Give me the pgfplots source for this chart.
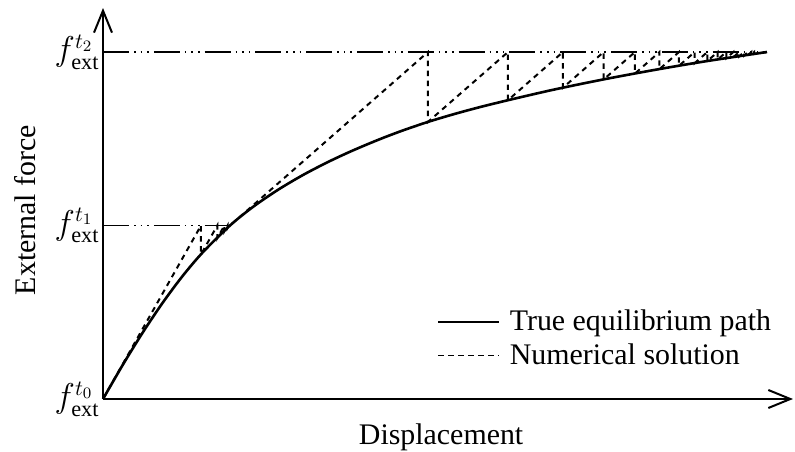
\documentclass[border=0pt]{standalone}
\usepackage{fontspec}
\setmainfont{Liberation Serif}
\usepackage{pgfplots}
\usepackage{pgfplotstable}
\pgfplotsset{compat=1.18}
\usetikzlibrary{arrows.meta}

% true equilibrium path: displacement, external force
\pgfplotstableread{
x f
0 0
20 34.5
40 66.9
60 96.7
80 123.5
100 146.9
127 173.5
150 192.1
175 209.2
200 224.0
225 237.0
250 248.6
277 259.9
300 268.6
325 277.1
350 284.6
375 291.4
405 298.8
450 309.2
500 319.5
550 328.8
600 337.3
664 347
}\truepath

% modified Newton-Raphson iterates (predictor to load level, then return to path)
\pgfplotstableread{
x f
0 0
98 173.5
98 144.6
114.3 173.5
114.3 160.9
121.4 173.5
121.4 167.8
124.6 173.5
124.6 171.2
125.9 173.5
125.9 172.5
127 173.5
325 347
325 277.1
405 347
405 298.8
460 347
460 311.3
500.7 347
500.7 319.6
532 347
532 325.5
556.5 347
556.5 329.9
576 347
576 333.2
591.7 347
591.7 335.9
604.4 347
604.4 338.0
614.7 347
614.7 339.5
623.3 347
623.3 340.8
630.4 347
630.4 341.9
636.2 347
636.2 342.7
641.1 347
641.1 343.5
645.1 347
645.1 344.1
648.4 347
648.4 344.6
651.1 347
651.1 345.0
664 347
}\numsol

\begin{document}
\begin{tikzpicture}
\begin{axis}[
  x=0.5bp, y=0.5bp,
  xmin=0, xmax=690, ymin=0, ymax=391,
  axis lines=left,
  axis line style={line width=1bp, -{Straight Barb[length=11bp,width=9bp]}},
  xtick=\empty,
  ytick={0,173.5,347},
  yticklabels={$f_{\mathrm{ext}}^{t_0}$, $f_{\mathrm{ext}}^{t_1}$, $f_{\mathrm{ext}}^{t_2}$},
  major tick length=0pt,
  tick label style={font=\fontsize{16}{19}\selectfont},
  yticklabel style={inner sep=1.5bp},
  label style={font=\fontsize{15}{18}\selectfont},
  xlabel={Displacement},
  ylabel={External force},
  xlabel style={at={(axis description cs:0.49,-0.097)}, anchor=center},
  ylabel style={at={(axis description cs:-0.113,0.483)}, anchor=center},
  clip=false,
  legend style={draw=none, fill=none, at={(axis cs:334,93.5)}, anchor=north west,
    inner sep=0pt, row sep=1bp, column sep=3bp, font=\fontsize{15}{18}\selectfont},
  legend cell align=left,
  legend image code/.code={\draw[#1, line width=0.75bp] (0bp,0bp) -- (30.5bp,0bp);},
]
% load levels
\addplot[forget plot, line width=0.8bp,
  dash pattern=on 13bp off 2.5bp on 0.8bp off 2.5bp on 0.8bp off 2.5bp on 0.8bp off 2.5bp]
  coordinates {(0,173.5) (127,173.5)};
\addplot[forget plot, line width=0.8bp,
  dash pattern=on 13bp off 2.5bp on 0.8bp off 2.5bp on 0.8bp off 2.5bp on 0.8bp off 2.5bp]
  coordinates {(0,347) (664,347)};

\addplot[line width=1.3bp, smooth] table[x=x, y=f] {\truepath};
\addlegendentry{True equilibrium path}
\addplot[line width=1bp, dash pattern=on 2.7bp off 2.3bp] table[x=x, y=f] {\numsol};
\addlegendentry{Numerical solution}
\end{axis}
\pgfresetboundingbox
\path[use as bounding box] (-51.5bp,-26.5bp) rectangle (346bp,199.5bp);
\end{tikzpicture}
\end{document}
